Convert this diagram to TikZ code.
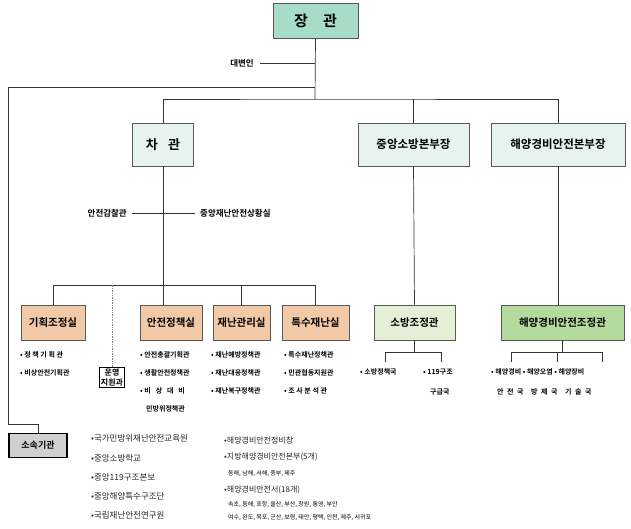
\documentclass[tikz,border=0pt]{standalone}
\usepackage{fontspec}
\setmainfont{Noto Sans CJK KR}
\newfontfamily\kb{Noto Sans CJK KR Bold}
\begin{document}
\begin{tikzpicture}[x=1pt,y=-1pt,
 box/.style={draw=gray!70!black,line width=0.6pt,inner sep=0pt,font=\kb\fontsize{10.5}{13}\selectfont},
 ln/.style={draw=black!80,line width=0.7pt},
 lbl/.style={inner sep=0pt,font=\kb\fontsize{8.5}{10}\selectfont,anchor=west},
 it/.style={inner sep=0pt,font=\kb\fontsize{7}{9}\selectfont,anchor=west},
 bt/.style={inner sep=0pt,font=\fontsize{8.5}{10}\selectfont,anchor=west,text=black!85},
 sm/.style={inner sep=0pt,font=\fontsize{6}{7}\selectfont,anchor=west}]
\definecolor{teal1}{HTML}{A6DCC8}
\definecolor{pale}{HTML}{E6F3EF}
\definecolor{org}{HTML}{F2C9A6}
\definecolor{lg}{HTML}{E4EFD6}
\definecolor{dg}{HTML}{B5DA9E}
\definecolor{gr}{HTML}{D0D0D0}
\useasboundingbox (0,0) rectangle (631,529);
\fill[white] (0,0) rectangle (631,529);
% top
\node[box,fill=teal1,minimum width=85,minimum height=35,font=\kb\fontsize{15}{17}\selectfont] (jang) at (315.5,20.5) {장\hspace{1em}관};
\node[lbl,anchor=center] (dae) at (242,63) {대변인};
\coordinate (d1) at (315,63);
\coordinate (j1) at (315,87);
\coordinate (j2) at (315,99);
\draw[ln] (jang.south) -- (j2);
\draw[ln] (dae.east)++(6,0) -- (d1);
% level 2
\node[box,fill=pale,minimum width=61,minimum height=43,font=\kb\fontsize{13}{15}\selectfont] (cha) at (163,144.5) {차\hspace{0.8em}관};
\node[box,fill=pale,minimum width=111,minimum height=43,font=\kb\fontsize{11.5}{13}\selectfont] (fire) at (413.5,144.5) {중앙소방본부장};
\node[box,fill=pale,minimum width=134,minimum height=43,font=\kb\fontsize{11.5}{13}\selectfont] (sea) at (558,144.5) {해양경비안전본부장};
\draw[ln] (cha.north) |- (j2) -| (sea.north);
\draw[ln] (fire.north) -- (fire.north|-j2);
% inspector line
\node[lbl,anchor=east] (ins) at (127,213) {안전감찰관};
\node[lbl] (sit) at (200,213) {중앙재난안전상황실};
\draw[ln] (ins.east)++(5,0) -- ([xshift=-5pt]sit.west);
% level 3 left
\node[box,fill=org,minimum width=64,minimum height=35] (plan) at (53,322.5) {기획조정실};
\node[box,fill=org,minimum width=62,minimum height=35] (safe) at (171,322.5) {안전정책실};
\node[box,fill=org,minimum width=57,minimum height=35] (dis) at (241.5,322.5) {재난관리실};
\node[box,fill=org,minimum width=67,minimum height=35] (spc) at (315.5,322.5) {특수재난실};
\draw[ln] (cha.south) -- (cha.south|-safe.north);
\coordinate (lh) at (53,285);
\draw[ln] (plan.north) |- (lh-|spc.north) -- (spc.north);
\draw[ln] (dis.north) -- (dis.north|-lh);
\node[draw=black,line width=0.7pt,fill=white,inner sep=1.5pt,align=center,font=\kb\fontsize{8}{10}\selectfont] (ops) at (112,377.5) {운영\\지원과};
\draw[gray,densely dotted,line width=0.7pt] (ops.north) -- (ops.north|-lh);
% lists
\node[it] (p1) at (20,355) {• 정 책 기 획 관};
\node[it] (p2) at (20,373) {• 비상안전기획관};
\node[it] (s1) at (140,355) {• 안전총괄기획관};
\node[it] (s2) at (140,373) {• 생활안전정책관};
\node[it] (s3) at (140,391) {• 비\hspace{0.7em}상\hspace{0.7em}대\hspace{0.7em}비};
\node[it] (s4) at (146,409) {민방위정책관};
\node[it] (r1) at (211,355) {• 재난예방정책관};
\node[it] (r2) at (211,373) {• 재난대응정책관};
\node[it] (r3) at (211,391) {• 재난복구정책관};
\node[it] (t1) at (284,355) {• 특수재난정책관};
\node[it] (t2) at (284,373) {• 민관협동지원관};
\node[it] (t3) at (284,391) {• 조 사 분 석 관};
% right level 3
\node[box,fill=lg,minimum width=81,minimum height=35] (fc) at (414.5,322.5) {소방조정관};
\node[box,fill=dg,minimum width=123,minimum height=35] (sc) at (562.5,322.5) {해양경비안전조정관};
\draw[ln] (fire.south) -- (fc.north);
\draw[ln] (sea.south) -- (sea.south|-sc.north);
\draw[ln] (fc.south) -- ++(0,12);
\draw[ln] (385,362) -- (385,352) -- (441,352) -- (441,362);
\node[it] (f1) at (360,372) {• 소방정책국};
\node[it] (f2) at (423,372) {• 119구조};
\node[it] (f3) at (430,392) {구급국};
\draw[ln] (sc.south) -- ++(0,12);
\draw[ln] (511,362) -- (511,352) -- (602,352) -- (602,362);
\draw[ln] (557,352) -- (557,362);
\node[it] (m1) at (491,372) {• 해양경비 • 해양오염 • 해양장비};
\node[it] (m2) at (497,392) {안\hspace{0.5em}전\hspace{0.5em}국\hspace{1.1em}방\hspace{0.5em}제\hspace{0.5em}국\hspace{1.1em}기\hspace{0.5em}술\hspace{0.5em}국};
% affiliated
\node[draw=black,double=black,double distance=0.8pt,line width=0.5pt,fill=gr,minimum width=58,minimum height=24,inner sep=0pt,font=\kb\fontsize{9}{11}\selectfont] (aff) at (38,445.5) {소속기관};
\draw[ln] (aff.north) -- (38,424) -- (8,424) |- (j1);
\node[bt] (a1) at (91,438) {•국가민방위재난안전교육원};
\node[bt] (a2) at (91,458) {•중앙소방학교};
\node[bt] (a3) at (91,477) {•중앙119구조본보};
\node[bt] (a4) at (91,496) {•중앙해양특수구조단};
\node[bt] (a5) at (91,515) {•국립재난안전연구원};
\node[bt,font=\fontsize{8}{10}\selectfont] (b1) at (224,440) {•해양경비안전정비창};
\node[bt,font=\fontsize{8}{10}\selectfont] (b2) at (224,457) {•지방해양경비안전본부(5개)};
\node[sm] (b3) at (228,474) {동해, 남해, 서해, 중부, 제주};
\node[bt,font=\fontsize{8}{10}\selectfont] (b4) at (224,490) {•해양경비안전서(18개)};
\node[sm] (b5) at (228,505) {속초, 동해, 포항, 울산, 부산, 창원, 통영, 부안};
\node[sm] (b6) at (228,518) {여수, 완도, 목포, 군산, 보령, 태안, 평택, 인천, 제주, 서귀포};
\end{tikzpicture}
\end{document}
